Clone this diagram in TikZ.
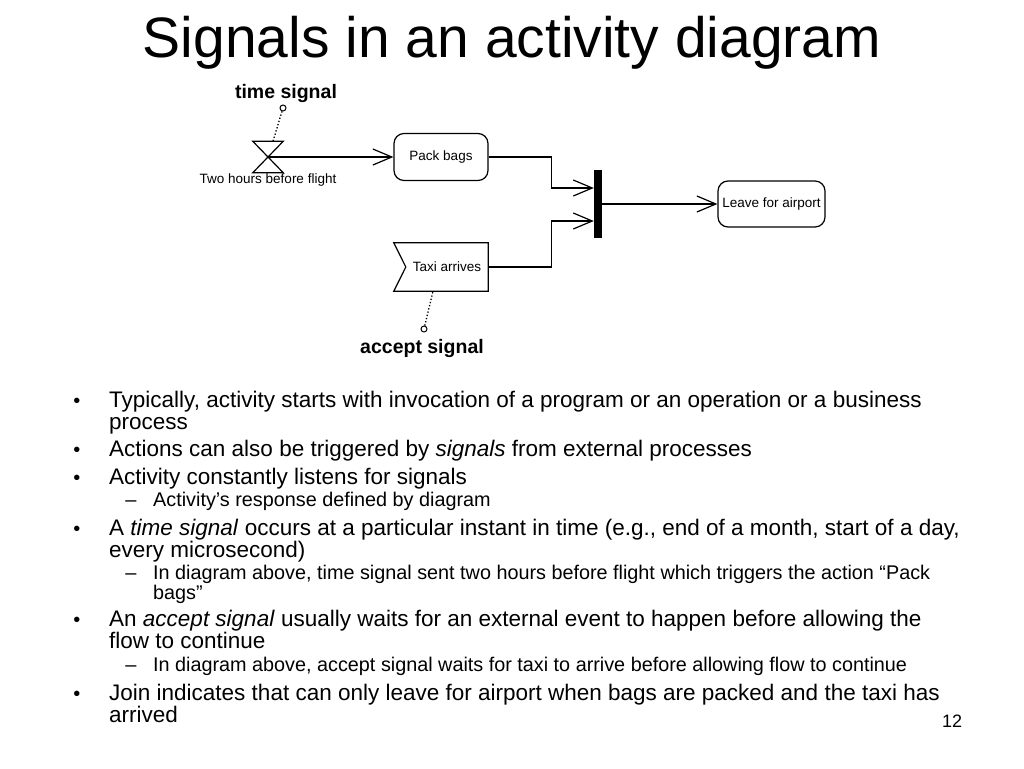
\documentclass[tikz,border=0pt]{standalone}
\usepackage{fontspec}
\setmainfont{Liberation Sans}
\usepackage{tikz}
\usetikzlibrary{positioning, arrows.meta}
\tikzset{
action/.style={shape=rectangle, rounded corners=10pt, draw, line width=1.2pt, inner sep=0, font=\fontsize{13.5}{15}\selectfont},
event/.style={shape=rectangle, inner sep=0, font=\fontsize{13.5}{15}\selectfont},
flow/.style={-{Straight Barb[length=19pt, width=16pt, line width=1.2pt]}, line width=1.2pt},
note/.style={dotted, line width=1.3pt},
pin/.style={shape=circle, draw, line width=1pt, minimum size=6pt, inner sep=0},
caption/.style={font=\bfseries\fontsize{19.5}{22}\selectfont, inner sep=0},
line/.style={anchor=base west, inner sep=0, font=\fontsize{22.5}{24}\selectfont},
subline/.style={anchor=base west, inner sep=0, font=\fontsize{19.8}{22}\selectfont},
bullet/.style={anchor=base, inner sep=0, font=\fontsize{20}{22}\selectfont}}

\begin{document}
\begin{tikzpicture}[x=1pt, y=-1pt]
\useasboundingbox (0,0) rectangle (1024,768);
\node [anchor=base, inner sep=0, font=\fontsize{57}{60}\selectfont] (title) at (512,57) {Signals in an activity diagram};

% diagram
\node [event, minimum width=30pt, minimum height=31pt] (ts) at (268,157) {};
\draw [line width=1.2pt] (ts.north west) -- (ts.north east) -- (ts.south west) -- (ts.south east) -- cycle;
\node [event, below=1pt of ts] (tslabel) {Two hours before flight};
\node [pin] (tspin) at (283,108) {};
\node [caption] (tscap) at (286,94) {time signal};
\node [action, minimum width=94pt, minimum height=47pt] (pack) at (441,157) {Pack bags};
\node [event, minimum width=82pt, minimum height=48pt] (taxi) at (447,267) {Taxi arrives};
\draw [line width=1.2pt] ([xshift=-12pt]taxi.north west) -- (taxi.north east) -- (taxi.south east) -- ([xshift=-12pt]taxi.south west) -- (taxi.west) -- cycle;
\node [pin] (tapin) at (424,329) {};
\node [caption] (tacap) at (422,348) {accept signal};
\node [shape=rectangle, fill=black, minimum width=8pt, minimum height=68pt, inner sep=0] (join) at (598,204) {};
\node [action, minimum width=107pt, minimum height=46pt] (leave) at (771.5,204) {Leave for airport};
\draw [flow] (ts.center) -- (pack);
\draw [flow] (pack.east) -- ++(63,0) |- ([yshift=16pt]join.west);
\draw [flow] (taxi.east) -- ++(63,0) |- ([yshift=-17pt]join.west);
\draw [flow] (join) -- (leave);
\draw [note] (tspin) -- ([xshift=5pt]ts.north);
\draw [note] (tapin) -- ([xshift=-14pt]taxi.south);

% bullets
\node [bullet] (b1) at (77,407) {•};
\node [line] (l1a) at (109,407) {Typically, activity starts with invocation of a program or an operation or a business};
\node [line] (l1b) at (109,429) {process};
\node [bullet] (b2) at (77,456) {•};
\node [line] (l2) at (109,456) {Actions can also be triggered by \textit{signals} from external processes};
\node [bullet] (b3) at (77,484) {•};
\node [line] (l3) at (109,484) {Activity constantly listens for signals};
\node [bullet] (s3) at (131,506) {–};
\node [subline] (l3s) at (153,506) {Activity’s response defined by diagram};
\node [bullet] (b4) at (77,535) {•};
\node [line] (l4a) at (109,535) {A \textit{time signal} occurs at a particular instant in time (e.g., end of a month, start of a day,};
\node [line] (l4b) at (109,557) {every microsecond)};
\node [bullet] (s4) at (131,579) {–};
\node [subline] (l4s) at (153,579) {In diagram above, time signal sent two hours before flight which triggers the action “Pack};
\node [subline] (l4t) at (153,599) {bags”};
\node [bullet] (b5) at (77,626) {•};
\node [line] (l5a) at (109,626) {An \textit{accept signal} usually waits for an external event to happen before allowing the};
\node [line] (l5b) at (109,648) {flow to continue};
\node [bullet] (s5) at (131,671) {–};
\node [subline] (l5s) at (153,671) {In diagram above, accept signal waits for taxi to arrive before allowing flow to continue};
\node [bullet] (b6) at (77,700) {•};
\node [line] (l6a) at (109,700) {Join indicates that can only leave for airport when bags are packed and the taxi has};
\node [line] (l6b) at (109,722) {arrived};
\node [anchor=base, inner sep=0, font=\fontsize{18}{20}\selectfont] (page) at (952,727) {12};
\end{tikzpicture}
\end{document}
